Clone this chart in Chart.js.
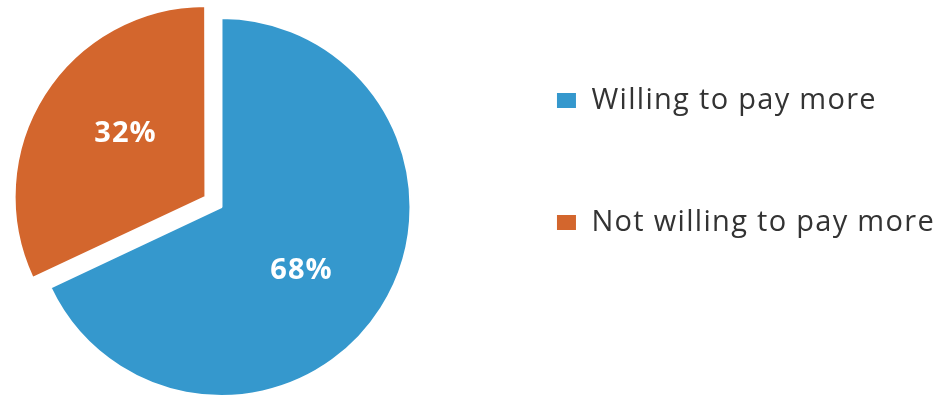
<!DOCTYPE html>
<html>
<head>
<meta charset="utf-8">
<script src="https://cdn.jsdelivr.net/npm/chart.js@4.4.1/dist/chart.umd.min.js"></script>
<style>
html, body { margin: 0; padding: 0; background: #ffffff; overflow: hidden; }
#wrap { position: relative; width: 943px; height: 400px; overflow: hidden; background: #ffffff; }
#c { position: absolute; left: -20px; top: -7px; }
</style>
</head>
<body>
<div id="wrap"><canvas id="c" width="965" height="428"></canvas></div>
<script>
// ---- data ----
const categories = ['Willing to pay more', 'Not willing to pay more'];
const shares = [68, 32];
const sliceColors = ['#3598CD', '#D3662D'];
const explode = [0, 76];

// ---- text letter spacing (reference text is drawn wide) ----
const TEXT_SPACING = '1.3px';
const spacingPlugin = {
  id: 'letterSpacing',
  beforeUpdate(chart) { chart.ctx.letterSpacing = TEXT_SPACING; },
  beforeDraw(chart) { chart.ctx.letterSpacing = TEXT_SPACING; }
};

// ---- percentage labels inside the slices ----
const sliceLabels = {
  id: 'sliceLabels',
  afterDatasetsDraw(chart, args, opts) {
    const ctx = chart.ctx;
    const meta = chart.getDatasetMeta(0);
    const data = chart.data.datasets[0].data;
    const total = data.reduce((a, b) => a + b, 0);
    ctx.save();
    ctx.letterSpacing = opts.spacing;
    ctx.font = opts.font;
    ctx.fillStyle = opts.color;
    ctx.textAlign = 'center';
    ctx.textBaseline = 'middle';
    meta.data.forEach((arc, i) => {
      const midRaw = (arc.startAngle + arc.endAngle) / 2;
      const shift = (arc.options.offset || 0) / 4;
      const cx = arc.x + Math.cos(midRaw) * shift;
      const cy = arc.y + Math.sin(midRaw) * shift;
      const a = midRaw + opts.angleShift;
      const r = arc.outerRadius * opts.position;
      ctx.fillText(Math.round(data[i] / total * 100) + '%', cx + Math.cos(a) * r, cy + Math.sin(a) * r);
    });
    ctx.restore();
  }
};

new Chart(document.getElementById('c'), {
  type: 'pie',
  data: {
    labels: categories,
    datasets: [{
      data: shares,
      backgroundColor: sliceColors,
      borderColor: '#ffffff',
      borderWidth: 2,
      offset: explode,
      hoverOffset: 0,
      radius: 189
    }]
  },
  options: {
    responsive: false,
    animation: false,
    devicePixelRatio: 1,
    radius: 189,
    events: [],
    layout: { padding: { left: 0, top: 0, right: 0, bottom: 0 } },
    plugins: {
      tooltip: { enabled: false },
      legend: {
        position: 'right',
        align: 'start',
        maxWidth: 900,
        labels: {
          boxWidth: 21,
          boxHeight: 17,
          padding: 93,
          color: '#333333',
          font: { family: "'Open Sans'", size: 29 }
        }
      },
      sliceLabels: {
        font: "bold 29px 'Open Sans'",
        color: '#ffffff',
        spacing: '1px',
        position: 0.54,
        angleShift: 0.105
      }
    }
  },
  plugins: [spacingPlugin, sliceLabels]
});
</script>
</body>
</html>
